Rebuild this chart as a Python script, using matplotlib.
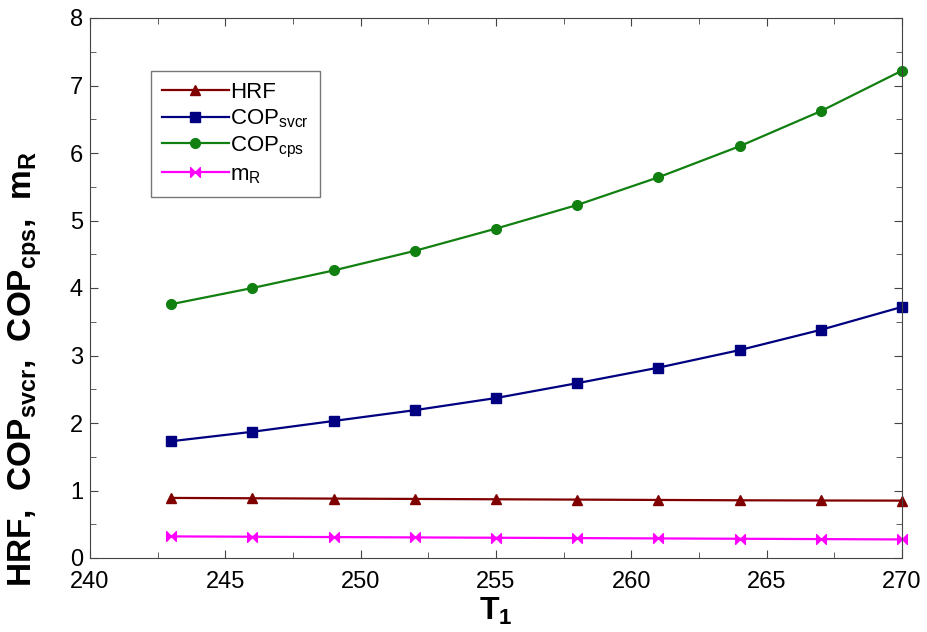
import matplotlib.pyplot as plt
from matplotlib.path import Path
from matplotlib.ticker import MultipleLocator

plt.rcParams['font.family'] = ['Liberation Sans', 'DejaVu Sans']

T1 = [243, 246, 249, 252, 255, 258, 261, 264, 267, 270]
hrf = [0.89, 0.885, 0.88, 0.875, 0.87, 0.865, 0.86, 0.855, 0.852, 0.85]
cop_svcr = [1.73, 1.87, 2.03, 2.19, 2.37, 2.59, 2.82, 3.08, 3.38, 3.72]
cop_cps = [3.76, 4.00, 4.26, 4.55, 4.88, 5.23, 5.64, 6.10, 6.62, 7.22]
m_r = [0.32, 0.315, 0.31, 0.305, 0.30, 0.295, 0.29, 0.285, 0.28, 0.275]

# bowtie marker for the mass-flow curve
bowtie = Path([(-1, 1), (1, -1), (1, 1), (-1, -1), (-1, 1)],
              [Path.MOVETO, Path.LINETO, Path.LINETO, Path.LINETO, Path.CLOSEPOLY])

fig = plt.figure(figsize=(9.28, 6.32), dpi=100)
ax = fig.add_axes([90 / 928, 1 - 558 / 632, 812 / 928, 540 / 632])

ax.plot(T1, hrf, color='#800000', lw=1.6, marker='^', ms=7, label='HRF', clip_on=False)
ax.plot(T1, cop_svcr, color='#000080', lw=1.6, marker='s', ms=6.5,
        label='COP$_{\\mathregular{svcr}}$', clip_on=False)
ax.plot(T1, cop_cps, color='#118011', lw=1.6, marker='o', ms=7,
        label='COP$_{\\mathregular{cps}}$', clip_on=False)
ax.plot(T1, m_r, color='#ff00ff', lw=1.6, marker=bowtie, ms=7,
        label='m$_{\\mathregular{R}}$', clip_on=False)

ax.set_xlim(240, 270)
ax.set_ylim(0, 8)
ax.xaxis.set_major_locator(MultipleLocator(5))
ax.xaxis.set_minor_locator(MultipleLocator(2.5))
ax.yaxis.set_major_locator(MultipleLocator(1))
ax.yaxis.set_minor_locator(MultipleLocator(0.5))
ax.tick_params(which='both', direction='in', top=True, right=True, labelsize=17,
               color='#444444')
ax.tick_params(which='major', length=6)
ax.tick_params(which='minor', length=4)
ax.tick_params(axis='x', pad=9)
ax.tick_params(axis='y', pad=5)
for s in ax.spines.values():
    s.set_color('#444444')

ax.set_xlabel('T$_{\\mathregular{1}}$', fontsize=23, fontweight='bold', labelpad=2)
fig.text(25 / 928, 1 - 369 / 632,
         'HRF,  COP$_{\\mathregular{svcr}}$,  COP$_{\\mathregular{cps}}$,  m$_{\\mathregular{R}}$',
         fontsize=24, fontweight='bold', rotation=90, ha='center', va='center')

leg = ax.legend(loc='upper left', bbox_to_anchor=(0.075, 0.902), fontsize=16,
                fancybox=False, edgecolor='#777777', framealpha=1,
                handlelength=3.0, handletextpad=0.05, labelspacing=0.2,
                borderpad=0.5, borderaxespad=0)
leg.get_frame().set_linewidth(1.0)

fig.savefig('out.png', dpi=100)
